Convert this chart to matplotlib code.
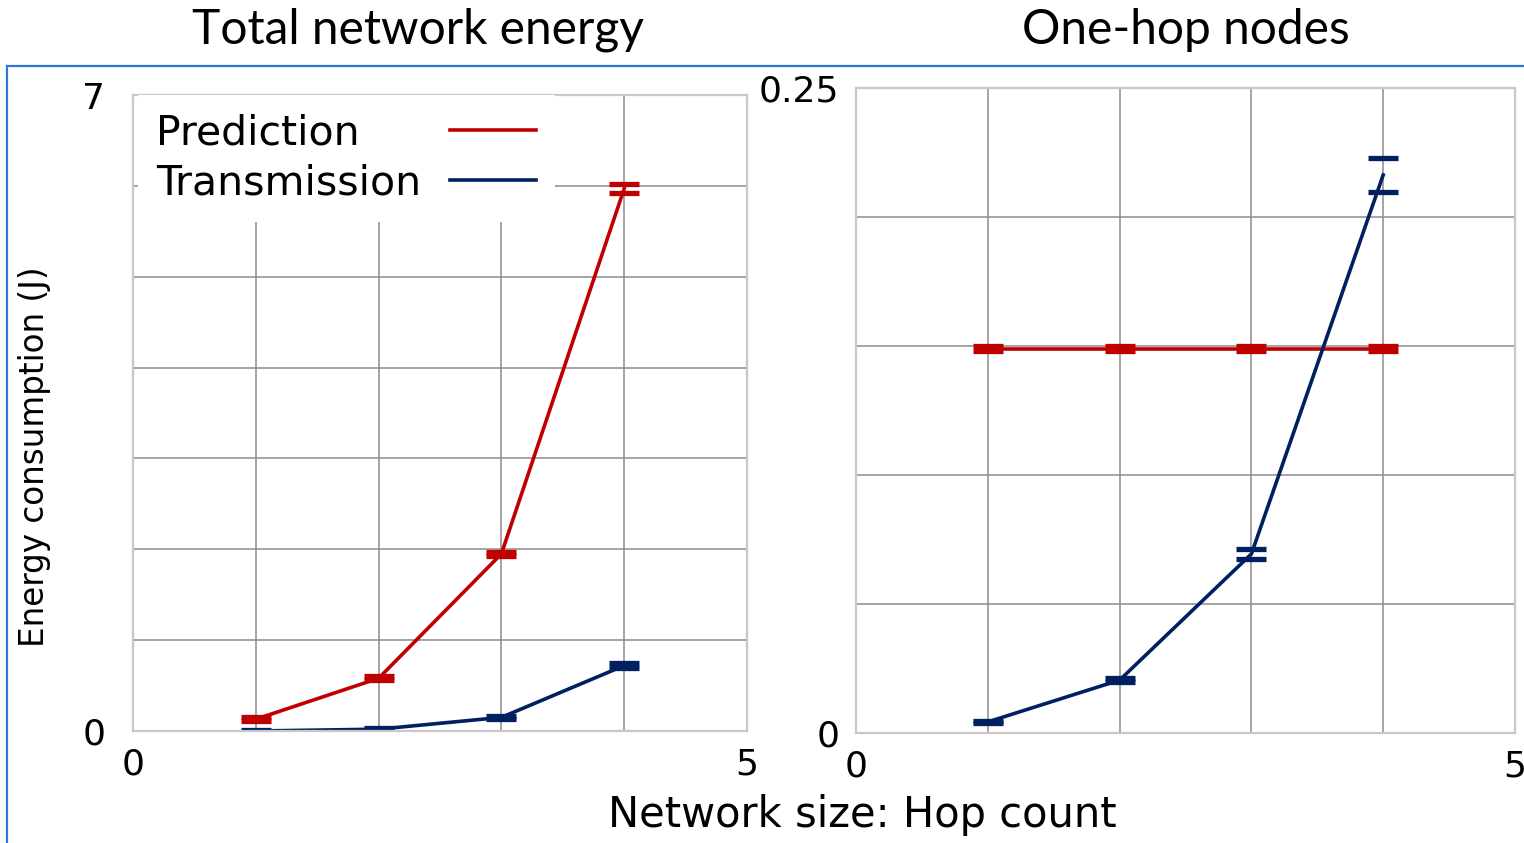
import matplotlib
matplotlib.use("Agg")
import matplotlib.pyplot as plt
from matplotlib.lines import Line2D

plt.rcParams['font.family'] = ['DejaVu Sans']

# ---- data ----
hops = [1, 2, 3, 4]
series_names = ["Prediction", "Transmission"]

total_pred = [0.13, 0.58, 1.95, 5.97]
total_pred_err = [0.02, 0.02, 0.02, 0.05]
total_trans = [0.0, 0.02, 0.15, 0.72]
total_trans_err = [0.01, 0.01, 0.02, 0.03]

onehop_pred = [0.149, 0.149, 0.149, 0.149]
onehop_pred_err = [0.001, 0.001, 0.001, 0.001]
onehop_trans = [0.0043, 0.0205, 0.0694, 0.2163]
onehop_trans_err = [0.0005, 0.0008, 0.002, 0.0066]

titles = ["Total network energy", "One-hop nodes"]
ylabel = "Energy consumption (J)"
xlabel = "Network size: Hop count"

RED = "#c00000"
BLUE = "#002060"
GRID = "#8c8c8c"
SPINE = "#c8c8c8"

W, H = 1524, 843
fig = plt.figure(figsize=(W / 100, H / 100), dpi=100)

def ax_rect(x0, y0, x1, y1):
    return [x0 / W, 1 - y1 / H, (x1 - x0) / W, (y1 - y0) / H]

axL = fig.add_axes(ax_rect(133, 95, 747, 731))
axR = fig.add_axes(ax_rect(856, 88, 1515, 733))

def style(ax, ymax, ygrid, yticklabels, ypad):
    ax.set_xlim(0, 5)
    ax.set_ylim(0, ymax)
    ax.set_xticks([0, 5])
    ax.set_xticklabels(["0", "5"])
    ax.set_yticks([0, ymax])
    ax.set_yticklabels(yticklabels)
    ax.set_xticks([1, 2, 3, 4], minor=True)
    ax.set_yticks(ygrid, minor=True)
    ax.grid(which='minor', color=GRID, linewidth=1.1)
    ax.set_axisbelow(True)
    ax.tick_params(which='both', length=0)
    ax.tick_params(axis='x', pad=12, labelsize=26)
    ax.tick_params(axis='y', pad=ypad, labelsize=26)
    for s in ax.spines.values():
        s.set_color(SPINE)
        s.set_linewidth(1.6)

style(axL, 7, [1, 2, 3, 4, 5, 6], ["0", "7"], 20)
style(axR, 0.25, [0.05, 0.10, 0.15, 0.20], ["0", "0.25"], 12)

ekw = dict(linewidth=2.6, capsize=10.5, capthick=3.8, elinewidth=0)
ebp = axL.errorbar(hops, total_pred, yerr=total_pred_err, color=RED, label=series_names[0], **ekw)
ebt = axL.errorbar(hops, total_trans, yerr=total_trans_err, color=BLUE, label=series_names[1], **ekw)
axR.errorbar(hops, onehop_pred, yerr=onehop_pred_err, color=RED, **ekw)
axR.errorbar(hops, onehop_trans, yerr=onehop_trans_err, color=BLUE, **ekw)

leg = axL.legend(handles=[ebp[0], ebt[0]], labels=series_names, loc='upper left',
                 bbox_to_anchor=(0.008, 1), borderaxespad=0, markerfirst=False,
                 frameon=True, fancybox=False, framealpha=1, facecolor='white',
                 edgecolor='none', fontsize=29.5, handlelength=2.1, handletextpad=0.7,
                 labelspacing=0.25, borderpad=0.45)
leg.set_zorder(5)

# left-align the legend labels while keeping the line samples aligned
fig.canvas.draw()
rend = fig.canvas.get_renderer()
widths = [t.get_window_extent(rend).width for t in leg.get_texts()]
maxw = max(widths)
for col in leg._legend_handle_box.get_children():
    col.align = 'left'
    for row, w in zip(col.get_children(), widths):
        row.sep = row.sep + (maxw - w) * 72 / fig.dpi

tfont = ['Lato', 'DejaVu Sans']
fig.text(418 / W, 1 - 30 / H, titles[0], ha='center', va='center', fontsize=34.5, family=tfont)
fig.text(1186 / W, 1 - 30 / H, titles[1], ha='center', va='center', fontsize=34.5, family=tfont)
fig.text(862 / W, 1 - 815 / H, xlabel, ha='center', va='center', fontsize=30)
fig.text(35 / W, 1 - 457 / H, ylabel, ha='center', va='center', rotation=90, fontsize=23.5)

frame_col = "#2b7bd0"
fig.add_artist(Line2D([7 / W, 1], [1 - 66 / H, 1 - 66 / H], transform=fig.transFigure, color=frame_col, linewidth=1.6))
fig.add_artist(Line2D([7 / W, 7 / W], [0, 1 - 66 / H], transform=fig.transFigure, color=frame_col, linewidth=1.6))

fig.savefig("out.png", dpi=100, facecolor='white')
